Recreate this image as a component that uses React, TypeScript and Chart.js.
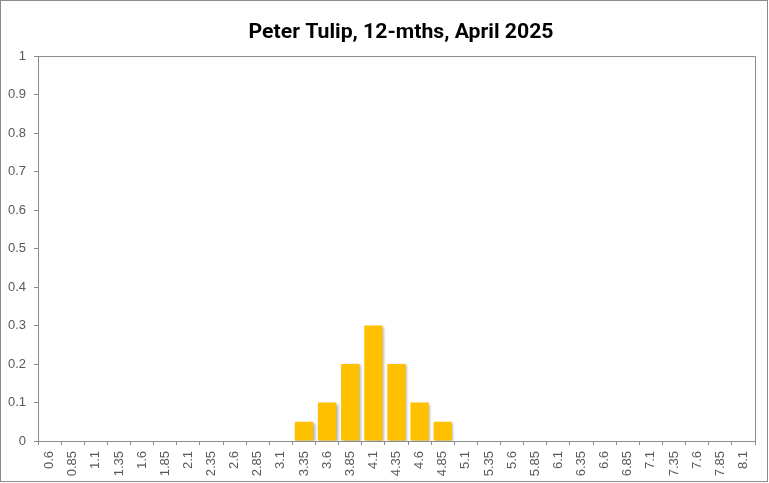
import { useEffect, useRef } from 'react';
import { Chart, registerables } from 'chart.js';

Chart.register(...registerables);

const categories = [
  '0.6', '0.85', '1.1', '1.35', '1.6', '1.85', '2.1', '2.35', '2.6', '2.85', '3.1',
  '3.35', '3.6', '3.85', '4.1', '4.35', '4.6', '4.85', '5.1', '5.35', '5.6', '5.85',
  '6.1', '6.35', '6.6', '6.85', '7.1', '7.35', '7.6', '7.85', '8.1',
];

const probabilities = [
  0, 0, 0, 0, 0, 0, 0, 0, 0, 0, 0,
  0.05, 0.1, 0.2, 0.3, 0.2, 0.1, 0.05, 0, 0, 0, 0,
  0, 0, 0, 0, 0, 0, 0, 0, 0,
];

const title = 'Peter Tulip, 12-mths, April 2025';

const lineColor = '#8c8c8c';
const textColor = '#595959';
const labelFont = "'Liberation Sans', Arial, sans-serif";

const framePlugin = {
  id: 'frame',
  beforeDatasetsDraw(chart: Chart) {
    const ctx = chart.ctx;
    ctx.save();
    ctx.shadowColor = 'rgba(0,0,0,0.35)';
    ctx.shadowBlur = 3;
    ctx.shadowOffsetX = 1.5;
    ctx.shadowOffsetY = 1;
  },
  afterDatasetsDraw(chart: Chart) {
    chart.ctx.restore();
  },
  afterDraw(chart: Chart) {
    const { ctx, chartArea, width, height } = chart;
    ctx.save();
    ctx.strokeStyle = lineColor;
    ctx.lineWidth = 1;
    // plot area top + right edge
    ctx.beginPath();
    ctx.moveTo(Math.round(chartArea.left) + 0.5, Math.round(chartArea.top) + 0.5);
    ctx.lineTo(Math.round(chartArea.right) + 0.5, Math.round(chartArea.top) + 0.5);
    ctx.lineTo(Math.round(chartArea.right) + 0.5, Math.round(chartArea.bottom) + 0.5);
    ctx.stroke();
    // outer frame
    ctx.strokeRect(0.5, 0.5, width - 2, height - 2);
    // title, squeezed to the reference width
    ctx.fillStyle = '#000';
    ctx.font = 'bold 21px Roboto';
    ctx.textAlign = 'center';
    ctx.textBaseline = 'alphabetic';
    const w = ctx.measureText(title).width;
    const target = 305;
    ctx.translate(401, 38);
    ctx.scale(target / w, 1);
    ctx.fillText(title, 0, 0);
    ctx.restore();
  },
};

export default function App() {
  const canvasRef = useRef<HTMLCanvasElement>(null);
  const chartRef = useRef<Chart | null>(null);

  useEffect(() => {
    if (!canvasRef.current) return;
    const ctx = canvasRef.current.getContext('2d');
    if (!ctx) return;

    if (chartRef.current) {
      chartRef.current.destroy();
    }

    chartRef.current = new Chart(ctx, {
      type: 'bar',
      data: {
        labels: categories,
        datasets: [{
          data: probabilities,
          backgroundColor: '#FFC000',
          borderWidth: 0,
          barPercentage: 0.79,
          categoryPercentage: 1,
        }],
      },
      options: {
        responsive: true,
        maintainAspectRatio: false,
        animation: false,
        layout: { padding: { top: 56, right: 14, left: 0, bottom: 0 } },
        plugins: {
          legend: { display: false },
          title: { display: false },
          tooltip: { enabled: false },
        },
        scales: {
          x: {
            offset: true,
            grid: {
              offset: true,
              drawOnChartArea: false,
              drawTicks: true,
              tickLength: 4,
              color: lineColor,
            },
            border: { display: true, color: lineColor },
            ticks: {
              color: textColor,
              font: { size: 13, family: labelFont },
              minRotation: 90,
              maxRotation: 90,
              autoSkip: false,
              padding: 6,
            },
            afterFit: (scale) => { scale.height = 42; },
          },
          y: {
            min: 0,
            max: 1,
            grid: {
              drawOnChartArea: false,
              drawTicks: true,
              tickLength: 4,
              color: lineColor,
            },
            border: { display: true, color: lineColor },
            ticks: {
              stepSize: 0.1,
              color: textColor,
              font: { size: 13, family: labelFont },
              padding: 8,
              callback: (v) => String(Math.round(Number(v) * 10) / 10),
            },
            afterFit: (scale) => { scale.width = 38; },
          },
        },
      },
      plugins: [framePlugin],
    });

    return () => {
      if (chartRef.current) {
        chartRef.current.destroy();
        chartRef.current = null;
      }
    };
  }, []);

  return (
    <div style={{ position: 'absolute', left: 0, top: 0, width: 769, height: 483, background: '#fff' }}>
      <canvas ref={canvasRef} />
    </div>
  );
}
